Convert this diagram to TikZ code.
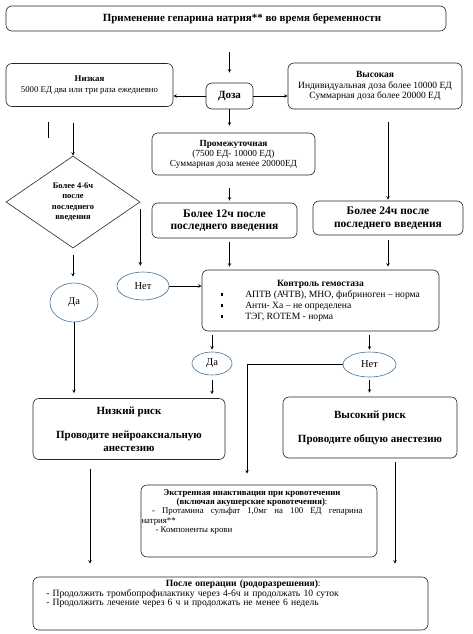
\documentclass[tikz,border=0pt]{standalone}
\usepackage{fontspec}
\setmainfont{Liberation Serif}
\usepackage{tikz}
\usetikzlibrary{shapes.geometric}
\usetikzlibrary{calc}
\definecolor{ovalblue}{RGB}{65,113,156}
\newcommand{\sqbul}{\rule[0.35ex]{2.2pt}{2.2pt}}
\newcommand{\txtsize}{\fontsize{8.8}{11.5}\selectfont}

\begin{document}
\begin{tikzpicture}[x=1pt, y=-1pt, >=stealth, line width=0.6pt,
	box/.style={draw=black!85, rounded corners=6pt, inner sep=0pt, align=center, font=\txtsize},
	oval/.style={draw=ovalblue, ellipse, inner sep=0pt, font=\fontsize{10.5}{12}\selectfont},
	big/.style={font=\bfseries\fontsize{11.5}{12.5}\selectfont}]
		\useasboundingbox (0,0) rectangle (472,634);
		% boxes, top part
		\node[box, minimum width=440pt, minimum height=25pt] (Title) at (226,18.5) {};
		\node[font=\bfseries\fontsize{11}{13}\selectfont] (TitleTxt) at (242,18.5) {Применение гепарина натрия** во время беременности};
		\node[box, minimum width=167pt, minimum height=43pt] (Nizk) at (89.5,85) {\textbf{Низкая}\\5000 ЕД два или три раза ежедневно};
		\node[box, minimum width=47pt, minimum height=26pt, font=\bfseries\fontsize{11}{13}\selectfont] (Doza) at (229.5,96) {Доза};
		\node[box, minimum width=174pt, minimum height=46pt, font=\fontsize{9.5}{10.5}\selectfont] (Vys) at (375,86) {\textbf{Высокая}\\Индивидуальная доза более 10000 ЕД\\Суммарная доза более 20000 ЕД};
		\node[box, minimum width=163pt, minimum height=42pt, font=\fontsize{9.3}{10}\selectfont] (Prom) at (233.5,154) {\textbf{Промежуточная}\\(7500 ЕД- 10000 ЕД)\\Суммарная доза менее 20000ЕД};
		\node[box, big, minimum width=145pt, minimum height=35pt] (B12) at (224.5,220.5) {Более 12ч после\\последнего введения};
		\node[box, big, minimum width=150pt, minimum height=34pt] (B24) at (388,218) {Более 24ч после\\последнего введения};
		\node[draw=black!85, diamond, minimum width=134pt, minimum height=92pt, inner sep=0pt, aspect=1.46, align=center, font=\bfseries\fontsize{8.5}{10.5}\selectfont] (Diam) at (73,202) {Более 4-6ч\\после\\последнего\\введения};
		% middle part
		\node[oval, minimum width=52pt, minimum height=28pt] (NetL) at (143,286) {Нет};
		\node[oval, minimum width=48pt, minimum height=39pt] (DaL) at (74,302.5) {Да};
		\node[box, minimum width=237pt, minimum height=61pt, font=\fontsize{9.6}{11}\selectfont] (Kontr) at (320.5,300.5) {\begin{tabular}{@{}c@{}}\textbf{Контроль гемостаза}\\
			\begin{tabular}{@{}l@{\hspace{22pt}}l@{}}\sqbul & АПТВ (АЧТВ), МНО, фибриноген – норма\\ \sqbul & Анти- Ха – не определена\\ \sqbul & ТЭГ, ROTEM - норма\end{tabular}\end{tabular}};
		\node[oval, minimum width=40pt, minimum height=23pt] (DaR) at (212,363.5) {Да};
		\node[oval, minimum width=53pt, minimum height=25pt] (NetR) at (369.5,364.5) {Нет};
		\node[box, minimum width=192pt, minimum height=61pt, font=\bfseries\fontsize{11}{13}\selectfont] (RiskL) at (129,429) {Низкий риск\\[11pt]Проводите нейроаксиальную\\анестезию};
		\node[box, minimum width=174pt, minimum height=61pt, font=\bfseries\fontsize{11}{13}\selectfont] (RiskH) at (370,427.5) {Высокий риск\\[11pt]Проводите общую анестезию};
		% lower part
		\node[box, minimum width=236pt, minimum height=72pt] (Ekstr) at (259,521) {};
		\node[anchor=north, text width=221pt, inner sep=0pt, align=justify, font=\fontsize{8.8}{9.4}\selectfont] (EkstrTxt) at (252,489) {{\centering\textbf{Экстренная инактивация при кровотечении}\\\textbf{(включая акушерские кровотечения)}:\par}
			\hspace*{1.2em}- Протамина сульфат 1,0мг на 100 ЕД гепарина\linebreak натрия**\\\hspace*{1.6em}- Компоненты крови};
		\node[box, minimum width=395pt, minimum height=53pt] (Post) at (230.5,603.5) {};
		\node[anchor=north west, text width=380pt, inner sep=0pt, align=left, font=\fontsize{9.6}{8.6}\selectfont] (PostTxt) at (46,580) {{\centering\hspace*{14pt}\textbf{После операции (родоразрешения)}:\par}
			- Продолжить тромбопрофилактику через 4-6ч и продолжать 10 суток\\- Продолжить лечение через 6 ч и продолжать не менее 6 недель};
		\coordinate (TickA) at (48,122);
		\coordinate (TickB) at (48,138);
		\draw (TickA) -- (TickB);
		% connectors
		\draw[->, shorten <=21pt, shorten >=10pt] (Doza.north |- Title.south) -- (Doza.north);
		\draw[->] (Doza.west) -- (Doza.west -| Nizk.east);
		\draw[->] (Doza.east) -- (Doza.east -| Vys.west);
		\draw[->, shorten >=7pt] (Doza.south) -- (Doza.south |- Prom.north);
		\draw[->, shorten <=16pt] (Diam.north |- Nizk.south) -- (Diam.north);
		\draw[->, shorten <=7pt, shorten >=6pt] (Diam.south) -- (Diam.south |- DaL.north);
		\draw[->, shorten <=7pt, shorten >=6pt] (Diam.east) -- (Diam.east |- NetL.north);
		\draw[->, shorten >=5pt] (DaL.south) -- (DaL.south |- RiskL.north);
		\draw[->, shorten <=13pt, shorten >=2pt] (Doza.south |- Prom.south) -- (Doza.south |- B12.north);
		\draw[->, shorten <=4pt, shorten >=3pt] (Doza.south |- B12.south) -- (Doza.south |- Kontr.north);
		\draw[->, shorten <=13pt, shorten >=1pt] (B24.north |- Vys.south) -- (B24.north);
		\draw[->, shorten <=5pt, shorten >=3pt] (B24.south) -- (B24.south |- Kontr.north);
		\draw[->] (NetL.east) -- (NetL.east -| Kontr.west);
		\draw[->, shorten <=4pt, shorten >=2pt] (DaR.north |- Kontr.south) -- (DaR.north);
		\draw[->, shorten <=4pt, shorten >=2pt] (NetR.north |- Kontr.south) -- (NetR.north);
		\draw[->, shorten <=5pt, shorten >=4pt] (DaR.south) -- (DaR.south |- RiskL.north);
		\draw[->, shorten <=3pt, shorten >=4pt] (NetR.south) -- (NetR.south |- RiskH.north);
		\draw[->, shorten >=11pt] (NetR.west) -| ([xshift=-12pt]Ekstr.north);
		\draw[->, shorten <=9pt, shorten >=13pt] ([xshift=-39pt]RiskL.south) -- ([xshift=-39pt]RiskL.south |- Post.north);
		\draw[->, shorten <=4pt, shorten >=13pt] ([xshift=25pt]RiskH.south) -- ([xshift=25pt]RiskH.south |- Post.north);
\end{tikzpicture}
\end{document}
